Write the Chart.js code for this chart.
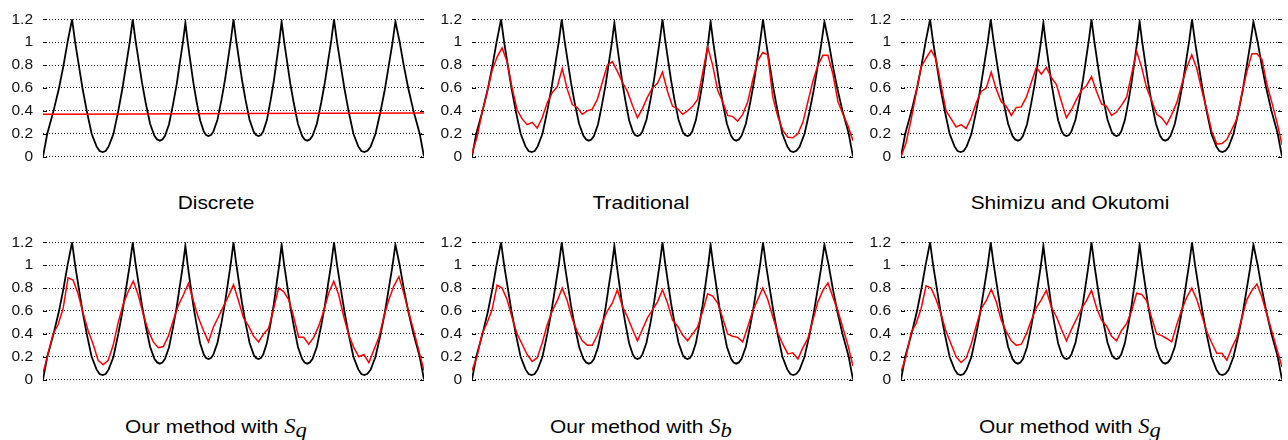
<!DOCTYPE html>
<html>
<head>
<meta charset="utf-8">
<script src="https://cdn.jsdelivr.net/npm/chart.js@4.4.1/dist/chart.umd.min.js"></script>
<style>
  body { margin: 0; background: #fff; width: 1288px; height: 440px; position: relative; overflow: hidden;
         font-family: "Liberation Sans", Arial, sans-serif; }
  canvas { position: absolute; }
  .title { position: absolute; font-size: 18.5px; line-height: 20px; white-space: nowrap; color: #000;
           transform: translateX(-50%) scaleX(1.13); }
  .title i { font-family: "Liberation Serif", serif; font-size: 20px; }
  .title sub { font-size: 14px; line-height: 0; vertical-align: -4px; }
</style>
</head>
<body>
<script>
// ground truth (black), x in sample units 0..76
const blackX = [0, 0.85, 2.1, 3.2, 4.1, 4.9, 5.8,
  6.41, 7.14, 7.87, 8.73, 9.7, 10.68, 11.29, 11.9,
  12.5, 13.1, 14.06, 15.02, 15.86, 16.58, 17.3, 17.9,
  18.44, 19.09, 19.74, 20.49, 21.36, 22.22, 22.76, 23.3,
  23.81, 24.32, 25.14, 25.95, 26.67, 27.28, 27.89, 28.4,
  28.86, 29.41, 29.96, 30.61, 31.34, 32.08, 32.54, 33.0,
  33.5, 34.0, 34.8, 35.6, 36.3, 36.9, 37.5, 38.0,
  38.5, 39.1, 39.7, 40.4, 41.2, 42.0, 42.5, 43.0,
  43.46, 43.92, 44.66, 45.39, 46.04, 46.59, 47.14, 47.6,
  48.11, 48.72, 49.33, 50.05, 50.86, 51.68, 52.19, 52.7,
  53.24, 53.77, 54.63, 55.48, 56.23, 56.87, 57.52, 58.05,
  58.66, 59.38, 60.11, 60.95, 61.92, 62.89, 63.5, 64.1,
  64.72, 65.34, 66.33, 67.32, 68.19, 68.94, 69.68, 70.3,
  71.15, 71.95, 72.85, 73.9, 75.15, 76];
const blackY = [0, 0.2, 0.4, 0.6, 0.8, 1.0, 1.2,
  1.0, 0.8, 0.6, 0.4, 0.2, 0.09, 0.05, 0.04,
  0.05, 0.09, 0.2, 0.4, 0.6, 0.8, 1.0, 1.2,
  1.02, 0.834, 0.649, 0.469, 0.288, 0.182, 0.151, 0.14,
  0.15, 0.181, 0.284, 0.459, 0.634, 0.815, 0.995, 1.17,
  1.002, 0.828, 0.655, 0.487, 0.319, 0.22, 0.19, 0.18,
  0.19, 0.221, 0.323, 0.496, 0.67, 0.848, 1.027, 1.2,
  1.027, 0.848, 0.67, 0.496, 0.323, 0.221, 0.19, 0.18,
  0.19, 0.22, 0.32, 0.49, 0.66, 0.835, 1.01, 1.18,
  1.003, 0.821, 0.639, 0.462, 0.286, 0.182, 0.15, 0.14,
  0.151, 0.182, 0.288, 0.469, 0.649, 0.834, 1.02, 1.2,
  1.0, 0.8, 0.6, 0.4, 0.2, 0.09, 0.05, 0.04,
  0.051, 0.086, 0.2, 0.393, 0.587, 0.787, 0.986, 1.18,
  1.0, 0.8, 0.6, 0.4, 0.2, 0];

// estimates (red)
const discreteX = [0, 19, 38, 57, 76];
const discreteY = [0.371, 0.374, 0.377, 0.379, 0.382];

const traditional = [0.03, 0.17, 0.38, 0.56, 0.75, 0.87, 0.95, 0.83, 0.60, 0.41,
  0.33, 0.28, 0.30, 0.25, 0.34, 0.47, 0.56, 0.61, 0.77, 0.59,
  0.455, 0.43, 0.37, 0.40, 0.415, 0.50, 0.65, 0.80, 0.83, 0.745,
  0.65, 0.57, 0.45, 0.34, 0.42, 0.52, 0.60, 0.64, 0.74, 0.57,
  0.44, 0.42, 0.37, 0.40, 0.44, 0.50, 0.73, 0.96, 0.80, 0.58,
  0.48, 0.36, 0.35, 0.31, 0.37, 0.48, 0.67, 0.84, 0.91, 0.89,
  0.52, 0.35, 0.23, 0.17, 0.165, 0.20, 0.30, 0.48, 0.66, 0.80,
  0.885, 0.885, 0.72, 0.48, 0.37, 0.27, 0.14];

const shimizu = [0.0, 0.12, 0.32, 0.55, 0.78, 0.86, 0.93, 0.85, 0.62, 0.40,
  0.33, 0.26, 0.28, 0.245, 0.34, 0.47, 0.57, 0.60, 0.74, 0.59,
  0.48, 0.44, 0.36, 0.43, 0.435, 0.52, 0.65, 0.78, 0.72, 0.78,
  0.69, 0.63, 0.48, 0.34, 0.41, 0.50, 0.58, 0.62, 0.70, 0.57,
  0.46, 0.44, 0.36, 0.39, 0.45, 0.52, 0.72, 0.92, 0.78, 0.60,
  0.49, 0.37, 0.34, 0.28, 0.37, 0.47, 0.63, 0.78, 0.89, 0.77,
  0.58, 0.41, 0.22, 0.11, 0.115, 0.15, 0.24, 0.33, 0.55, 0.745,
  0.90, 0.90, 0.85, 0.63, 0.47, 0.30, 0.105];

const methodSq = [0.06, 0.22, 0.40, 0.48, 0.62, 0.89, 0.87, 0.75, 0.58, 0.43,
  0.31, 0.17, 0.13, 0.17, 0.30, 0.50, 0.66, 0.77, 0.86, 0.74,
  0.57, 0.43, 0.33, 0.28, 0.29, 0.38, 0.52, 0.65, 0.74, 0.84,
  0.69, 0.54, 0.43, 0.33, 0.46, 0.55, 0.64, 0.73, 0.83, 0.69,
  0.54, 0.47, 0.38, 0.33, 0.40, 0.45, 0.62, 0.80, 0.77, 0.70,
  0.55, 0.37, 0.37, 0.31, 0.37, 0.47, 0.60, 0.76, 0.86, 0.74,
  0.55, 0.39, 0.28, 0.20, 0.22, 0.15, 0.26, 0.37, 0.55, 0.70,
  0.82, 0.90, 0.75, 0.58, 0.42, 0.25, 0.08];

const methodSb = [0.08, 0.20, 0.40, 0.495, 0.61, 0.825, 0.80, 0.70, 0.54, 0.40,
  0.31, 0.22, 0.16, 0.19, 0.32, 0.48, 0.60, 0.69, 0.80, 0.69,
  0.53, 0.42, 0.34, 0.30, 0.30, 0.39, 0.50, 0.60, 0.67, 0.785,
  0.64, 0.55, 0.44, 0.34, 0.44, 0.54, 0.61, 0.68, 0.785, 0.67,
  0.52, 0.47, 0.39, 0.34, 0.40, 0.46, 0.595, 0.75, 0.73, 0.67,
  0.54, 0.40, 0.38, 0.37, 0.33, 0.46, 0.60, 0.70, 0.80, 0.70,
  0.55, 0.41, 0.31, 0.225, 0.235, 0.18, 0.28, 0.36, 0.52, 0.68,
  0.78, 0.845, 0.72, 0.60, 0.45, 0.30, 0.12];

const methodSg = [0.07, 0.20, 0.41, 0.49, 0.62, 0.82, 0.80, 0.70, 0.57, 0.42,
  0.31, 0.20, 0.15, 0.19, 0.31, 0.47, 0.62, 0.69, 0.79, 0.68,
  0.52, 0.42, 0.34, 0.30, 0.31, 0.40, 0.52, 0.63, 0.70, 0.78,
  0.63, 0.55, 0.44, 0.34, 0.44, 0.53, 0.62, 0.69, 0.78, 0.63,
  0.52, 0.47, 0.38, 0.34, 0.43, 0.49, 0.60, 0.755, 0.745, 0.69,
  0.54, 0.40, 0.385, 0.36, 0.33, 0.48, 0.61, 0.72, 0.80, 0.70,
  0.56, 0.42, 0.32, 0.23, 0.23, 0.17, 0.28, 0.37, 0.54, 0.70,
  0.78, 0.835, 0.72, 0.57, 0.42, 0.265, 0.11];

const yTicks = [0, 0.2, 0.4, 0.6, 0.8, 1, 1.2];

const pairs = (xs, ys) => ys.map((y, i) => ({ x: xs[i], y }));
const byIndex = ys => ys.map((y, i) => ({ x: i, y }));

const panels = [
  { left: 0,   top: 0,   cx: 216,  title: 'Discrete', red: pairs(discreteX, discreteY) },
  { left: 429, top: 0,   cx: 641,  title: 'Traditional', red: byIndex(traditional) },
  { left: 858, top: 0,   cx: 1070, title: 'Shimizu and Okutomi', red: byIndex(shimizu) },
  { left: 0,   top: 223, cx: 216,  title: 'Our method with <i>S</i><sub><i>q</i></sub>', red: byIndex(methodSq) },
  { left: 429, top: 223, cx: 641,  title: 'Our method with <i>S</i><sub><i>b</i></sub>', red: byIndex(methodSb) },
  { left: 858, top: 223, cx: 1070, title: 'Our method with <i>S</i><sub><i>g</i></sub>', red: byIndex(methodSg) }
];

// short solid tics on both inner edges, gnuplot style
const innerTicks = {
  id: 'innerTicks',
  beforeDatasetsDraw(chart) {
    const { ctx, chartArea: a, scales: { y } } = chart;
    ctx.save();
    ctx.strokeStyle = '#000';
    ctx.lineWidth = 1;
    ctx.beginPath();
    y.ticks.forEach(t => {
      const py = Math.round(y.getPixelForValue(t.value)) + 0.5;
      ctx.moveTo(a.left, py); ctx.lineTo(a.left + 4, py);
      ctx.moveTo(a.right - 4, py); ctx.lineTo(a.right, py);
    });
    ctx.stroke();
    ctx.restore();
  }
};

panels.forEach(p => {
  const canvas = document.createElement('canvas');
  canvas.width = 430;
  canvas.height = 176;
  canvas.style.left = p.left + 'px';
  canvas.style.top = p.top + 'px';
  document.body.appendChild(canvas);

  const t = document.createElement('div');
  t.className = 'title';
  t.innerHTML = p.title;
  t.style.left = p.cx + 'px';
  t.style.top = (p.top + 193) + 'px';
  document.body.appendChild(t);

  new Chart(canvas, {
    type: 'line',
    data: {
      datasets: [
        { data: p.red, borderColor: '#ff0000', borderWidth: 1.5 },
        { data: pairs(blackX, blackY), borderColor: '#000', borderWidth: 1.8 }
      ]
    },
    options: {
      responsive: false,
      animation: false,
      events: [],
      layout: { padding: { left: 0, top: 14, right: 6, bottom: 10 } },
      elements: { point: { radius: 0 }, line: { tension: 0, fill: false } },
      plugins: { legend: { display: false }, tooltip: { enabled: false } },
      scales: {
        x: { type: 'linear', min: 0, max: 76, display: false },
        y: {
          min: 0, max: 1.2,
          afterFit: s => { s.width = 43; },
          afterBuildTicks: s => { s.ticks = yTicks.map(v => ({ value: v })); },
          grid: { color: '#222', lineWidth: 1, drawTicks: false },
          border: { display: false, dash: [1, 2] },
          ticks: {
            padding: 10,
            color: '#111',
            font: { family: '"Liberation Sans", Arial, sans-serif', size: 15.5 },
            callback: v => String(Math.round(v * 10) / 10)
          }
        }
      }
    },
    plugins: [innerTicks]
  });
});
</script>
</body>
</html>
